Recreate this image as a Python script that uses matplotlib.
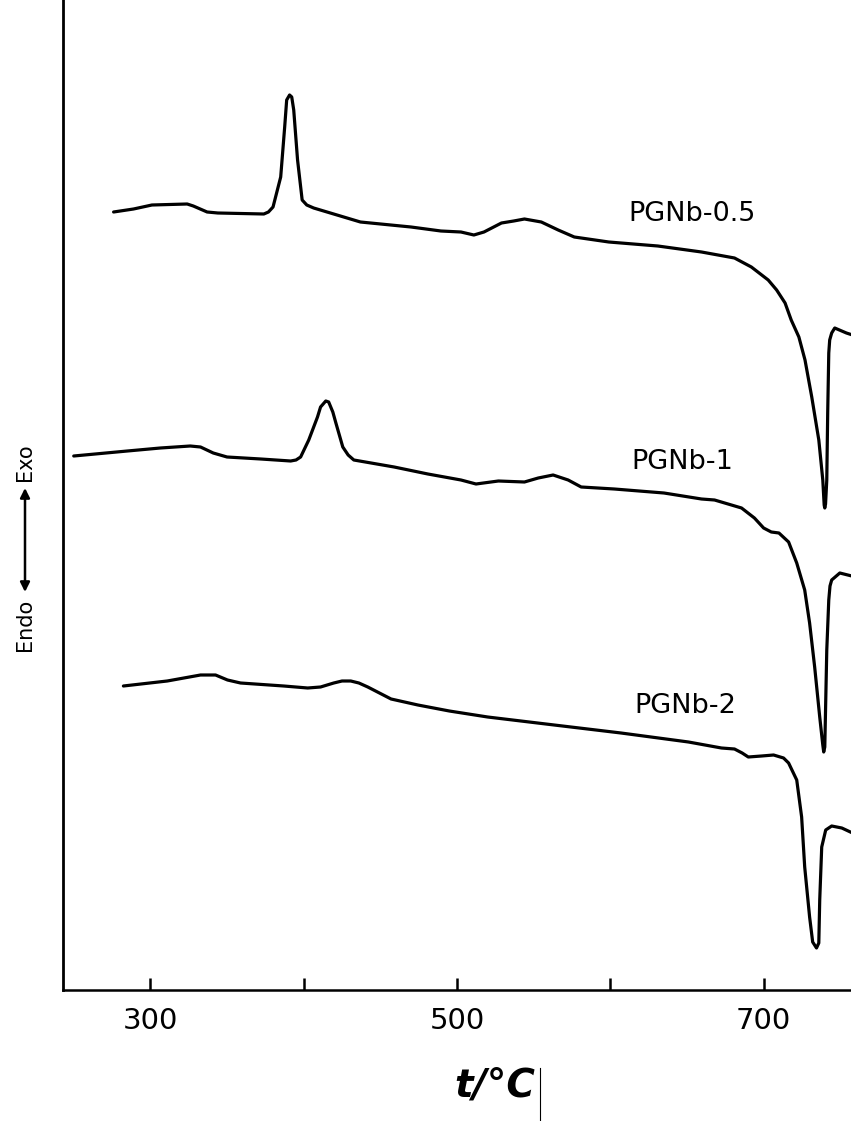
import matplotlib
matplotlib.use("Agg")
import matplotlib.pyplot as plt
from matplotlib.lines import Line2D

# DTA curves, temperature in deg C, signal in arbitrary units
t_05 = [276, 289, 301, 324, 328, 337, 344, 374, 377, 380, 385, 387.6, 388.9, 390.8, 392.2,
        393.5, 396, 399, 402, 406.5, 437, 470, 489.5, 502.6, 511, 517.6, 529, 537, 544,
        555, 566, 576.5, 599, 631, 659.5, 681, 692, 703, 708.5, 714, 718, 723, 727,
        731.4, 736, 738.6, 739.5, 739.9, 740.4, 741.2, 741.8, 742.5, 743.1, 744.4, 746.4,
        754, 758]
s_05 = [778, 781, 785, 786, 784, 778, 777, 776, 778, 783, 813, 863, 890, 895, 893,
        880, 830, 790, 785, 782, 768, 763, 759, 758, 755, 758, 767, 769, 771,
        768, 760, 753, 748, 744, 738, 732, 723, 710, 700, 687, 670, 653, 630,
        593, 550, 510, 485, 482, 486, 510, 577, 637, 650, 657, 662,
        657, 655]

t_1 = [250, 285, 306.5, 326, 332.7, 341, 350, 372, 391.5, 395, 398, 403.3, 409, 411,
       414.4, 416.3, 419, 421, 425.5, 429, 432.7, 459, 481, 502.6, 512.4, 527, 544, 553,
       562.7, 572.5, 581, 602.6, 635, 659.5, 668, 685.6, 694, 700, 705, 710, 716.3, 721.6,
       726.8, 730, 733.3, 736.6, 738.6, 739.2, 739.9, 741.2, 742.5, 743.3, 744.4, 749.7,
       757.5]
s_1 = [534, 539, 542, 544, 543, 537, 533, 531, 529, 530, 533, 550, 573, 583,
       589, 588, 578, 567, 543, 535, 530, 523, 516, 510, 506, 509, 508, 512,
       515, 510, 503, 501, 497, 491, 490, 482, 472, 462, 458, 457, 448, 427,
       400, 367, 323, 273, 245, 238, 243, 340, 390, 404, 410, 417,
       414]

t_2 = [282.4, 311, 332.7, 342.5, 350.3, 358.8, 387, 402.6, 411, 419.6, 425, 430.7, 436,
       441.8, 457, 474.5, 495, 520, 563.4, 607, 651, 672.5, 681, 686, 690, 698.7, 706.5,
       713, 716.3, 721.6, 724.8, 726.8, 730, 732, 734.5, 736, 736.6, 737.9, 740.5, 744.4,
       751, 758]
s_2 = [304, 309, 315, 315, 310, 307, 304, 302, 303, 307, 309, 309, 307,
       303, 291, 285, 279, 273, 265, 257, 248, 242, 241, 237, 233, 234, 235,
       232, 227, 210, 173, 123, 73, 48, 42, 47, 90, 143, 160, 164,
       162, 157]

labels = ["PGNb-0.5", "PGNb-1", "PGNb-2"]
label_t = [612, 614, 616]
label_s = [776, 528, 284]

fig = plt.figure(figsize=(8.51, 11.21), dpi=100)
ax = fig.add_axes([63 / 851, 131 / 1121, 1 - 63 / 851, 990 / 1121])

for t, s in [(t_05, s_05), (t_1, s_1), (t_2, s_2)]:
    ax.plot(t, s, color="black", lw=2.3, solid_joinstyle="round", solid_capstyle="round")

for lab, x, y in zip(labels, label_t, label_s):
    ax.text(x, y, lab, fontsize=19.5, ha="left", va="center", color="black")

ax.set_xlim(243, 757)
ax.set_ylim(0, 990)
ax.set_xticks([300, 400, 500, 600, 700])
ax.set_xticklabels(["300", "", "500", "", "700"])
ax.set_yticks([])
ax.tick_params(axis="x", direction="in", length=9, width=1.8, labelsize=21, pad=12)
ax.spines["top"].set_visible(False)
ax.spines["right"].set_visible(False)
ax.spines["left"].set_linewidth(2.0)
ax.spines["bottom"].set_linewidth(1.8)

fig.text(495 / 851, 1 - 1085 / 1121, "t/°C", fontsize=28, fontweight="bold",
         fontstyle="italic", ha="center", va="center")

# Exo <-> Endo marker on the left
fig.text(25 / 851, 1 - 462 / 1121, "Exo", rotation=90, fontsize=15, ha="center", va="center")
fig.text(25 / 851, 1 - 625 / 1121, "Endo", rotation=90, fontsize=15, ha="center", va="center")
fig.add_artist(plt.Annotation("", xy=(25 / 851, 1 - 488 / 1121), xytext=(25 / 851, 1 - 592 / 1121),
                              xycoords="figure fraction", textcoords="figure fraction",
                              arrowprops=dict(arrowstyle="<|-|>", color="black", lw=1.8,
                                              mutation_scale=14, shrinkA=0, shrinkB=0)))

# thin stray line from the scan
fig.add_artist(Line2D([540 / 851, 540 / 851], [0, 53 / 1121], color="black", lw=0.8))

fig.savefig("out.png", dpi=100)
